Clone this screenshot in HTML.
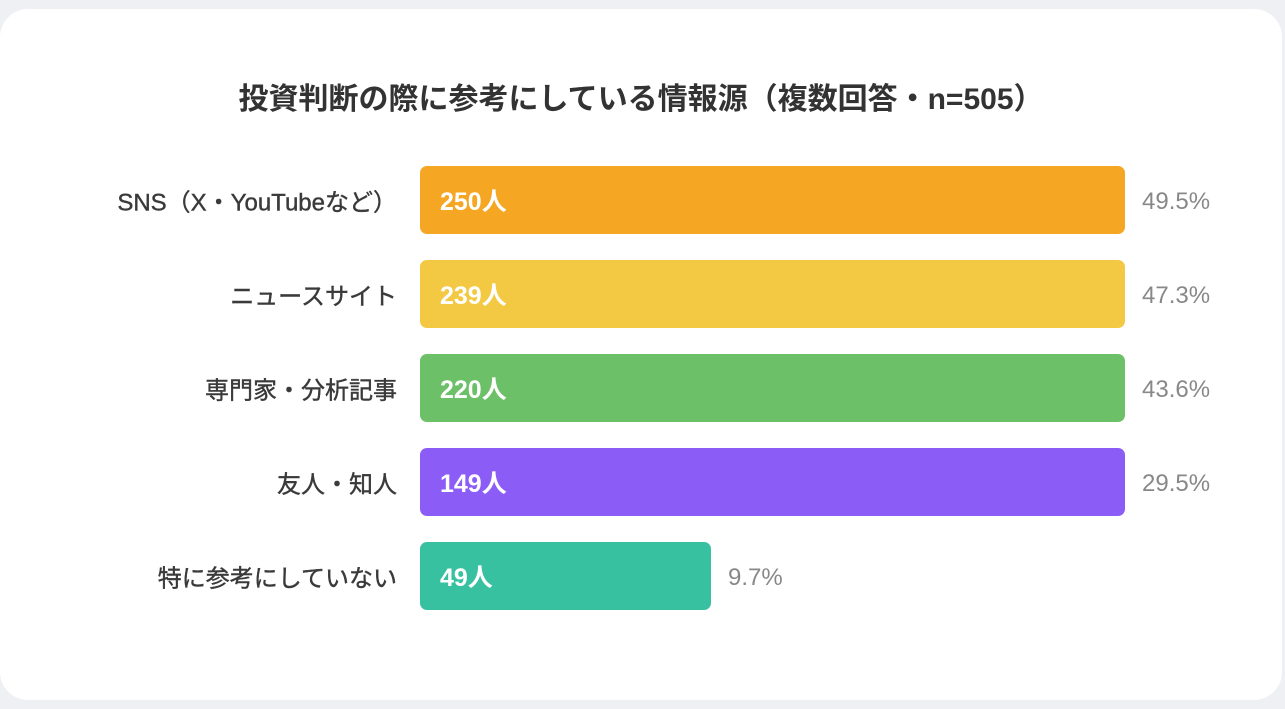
<!DOCTYPE html>
<html><head><meta charset="utf-8">
<style>
html,body{margin:0;padding:0;width:1285px;height:709px;background:#eff0f4;overflow:hidden;font-family:"Liberation Sans","Noto Sans CJK JP",sans-serif;}
.card{position:absolute;left:0;top:9px;width:1282px;height:691px;background:#fff;border-radius:28px;}
.title{position:absolute;left:0;width:1282px;top:65px;text-align:center;font-size:30px;font-weight:bold;color:#333;}
.lab{position:absolute;right:885px;font-size:24px;color:#3a3a3a;white-space:nowrap;transform:translateY(-50%);-webkit-text-stroke:0.4px #3a3a3a;}
.bar{position:absolute;left:420px;height:68px;border-radius:7px;}
.val{position:absolute;left:20px;top:50%;transform:translateY(-50%);color:#fff;font-weight:bold;font-size:25px;}
.pct{position:absolute;font-size:24px;color:#888;transform:translateY(-50%);margin-top:2px;}
</style></head><body>
<div class="card">
<div class="title">投資判断の際に参考にしている情報源（複数回答・n=505）</div>
<div id="rows"></div>
</div>
<script>
const categories=["SNS（X・YouTubeなど）","ニュースサイト","専門家・分析記事","友人・知人","特に参考にしていない"];
const counts=[250,239,220,149,49];
const percents=["49.5%","47.3%","43.6%","29.5%","9.7%"];
const colors=["#f5a623","#f3c843","#6cc067","#8b5cf6","#38c1a1"];
function xScale(v){return Math.min(705,v*705/118.7);}
function yCenter(i){return 191+i*94;}
const root=document.getElementById('rows');
categories.forEach((c,i)=>{
  const yc=yCenter(i);
  const l=document.createElement('div');l.className='lab';l.style.top=yc+'px';l.textContent=c;
  
  
  root.appendChild(l);
  const w=xScale(counts[i]);
  const b=document.createElement('div');b.className='bar';b.style.top=(yc-34)+'px';b.style.width=w+'px';b.style.background=colors[i];
  
  
  const v=document.createElement('span');v.className='val';v.textContent=counts[i]+'人';
  
  
  b.appendChild(v);root.appendChild(b);
  const p=document.createElement('div');p.className='pct';p.style.left=(420+w+17)+'px';p.style.top=yc+'px';p.textContent=percents[i];
  
  
  root.appendChild(p);
});
</script>
</body></html>
